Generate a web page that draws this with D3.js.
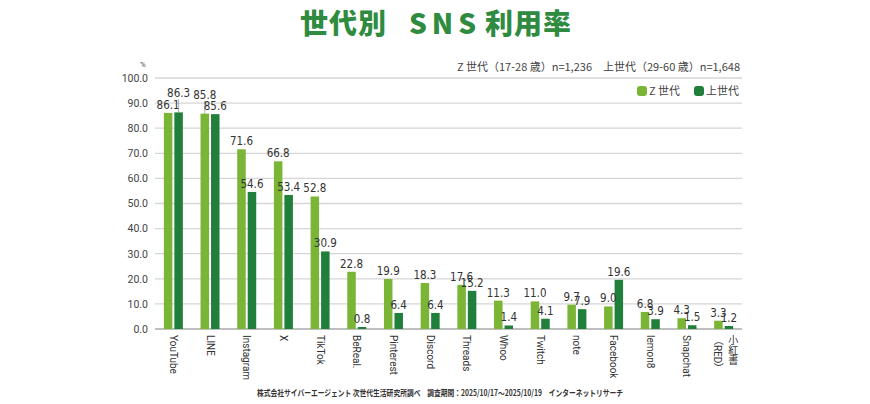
<!DOCTYPE html>
<html>
  <head>
    <meta charset="utf-8">
    <script src="https://d3js.org/d3.v7.min.js"></script>
    <style>
      body { margin: 0; background: #fff; }
      text { font-family: Roboto, "Noto Sans CJK JP", sans-serif; fill: #333; }
      .title { font-family: "Noto Sans CJK JP", sans-serif; font-weight: 900; fill: #2e8b3f; }
      .grid line { stroke: #d6d6d6; stroke-width: 1.3; }
      .xlab { writing-mode: vertical-rl; font-family: Roboto, "Noto Sans CJK JP", sans-serif; }
    </style>
  </head>
  <body>
    <svg id="chart" width="870" height="404"></svg>
    <script>
      // chart data
      var platforms = ["YouTube", "LINE", "Instagram", "X", "TikTok", "BeReal.", "Pinterest", "Discord",
                       "Threads", "Whoo", "Twitch", "note", "Facebook", "lemon8", "Snapchat", "小紅書\n（RED）"];
      var genZ   = [86.1, 85.8, 71.6, 66.8, 52.8, 22.8, 19.9, 18.3, 17.6, 11.3, 11.0, 9.7, 9.0, 6.8, 4.3, 3.3];
      var older  = [86.3, 85.6, 54.6, 53.4, 30.9, 0.8, 6.4, 6.4, 15.2, 1.4, 4.1, 7.9, 19.6, 3.9, 1.5, 1.2];
      var seriesNames = ["Z 世代", "上世代"];
      var yTicks = [0, 10, 20, 30, 40, 50, 60, 70, 80, 90, 100];

      var colors = ["#7ab536", "#1f7f3b"];
      var svg = d3.select("#chart");

      var x = d3.scaleBand().domain(platforms).range([155, 742]);
      var y = d3.scaleLinear().domain([0, 100]).range([329, 78]);

      // title
      var title = svg.append("text").attr("class", "title")
        .attr("x", 436).attr("y", 34).attr("text-anchor", "middle")
        .style("font-size", "28px");
      title.append("tspan").style("letter-spacing", "1px").text("世代別");
      title.append("tspan").attr("dx", 22).style("letter-spacing", "5px").text("SNS");
      title.append("tspan").attr("dx", 4).style("letter-spacing", "1px").text("利用率");

      // gridlines
      svg.append("g").attr("class", "grid")
        .selectAll("line").data(yTicks).enter().append("line")
        .attr("x1", 155).attr("x2", 742)
        .attr("y1", function(d) { return y(d); })
        .attr("y2", function(d) { return y(d); })
        .style("stroke", function(d) { return d === 0 ? "#aaa" : null; });

      // y axis labels (axis line hidden, only text kept)
      var yAxis = svg.append("g").attr("transform", "translate(152,0)")
        .call(d3.axisLeft(y).tickValues(yTicks).tickFormat(d3.format(".1f")).tickSize(0).tickPadding(4));
      yAxis.select(".domain").remove();
      yAxis.selectAll("text").style("font-size", "10.5px").style("fill", "#444")
        .style("font-family", "Roboto, sans-serif");

      svg.append("text").attr("x", 143).attr("y", 67).attr("text-anchor", "middle")
        .style("font-size", "8px").style("fill", "#555").text("%");

      // sample sizes
      svg.append("text").attr("x", 740).attr("y", 71).attr("text-anchor", "end")
        .style("font-size", "11px").style("fill", "#444")
        .style("font-family", "'Noto Sans CJK JP', sans-serif")
        .text("Z 世代（17-28 歳）n=1,236　上世代（29-60 歳）n=1,648");

      // legend
      var legX = [637, 694];
      seriesNames.forEach(function(name, i) {
        svg.append("rect").attr("x", legX[i]).attr("y", 86).attr("width", 10).attr("height", 10)
          .attr("rx", 3).attr("fill", colors[i]);
        svg.append("text").attr("x", legX[i] + 12).attr("y", 95)
          .style("font-size", "11px").style("fill", "#444")
          .style("font-family", "'Noto Sans CJK JP', sans-serif")
          .text(name);
      });

      // bars
      var rows = platforms.map(function(p, i) { return { name: p, v: [genZ[i], older[i]] }; });
      var bw = 8.5;
      function barX(d, k) {
        var c = x(d.name) + x.bandwidth() / 2;
        return k === 0 ? c - 1 - bw : c + 1;
      }

      var groups = svg.append("g").selectAll("g").data(rows).enter().append("g");
      [0, 1].forEach(function(k) {
        groups.append("rect")
          .attr("x", function(d) { return barX(d, k); })
          .attr("y", function(d) { return y(d.v[k]); })
          .attr("width", bw)
          .attr("height", function(d) { return y(0) - y(d.v[k]); })
          .attr("fill", colors[k]);
      });

      // value labels; when the two bars are almost equal, lift the larger label
      [0, 1].forEach(function(k) {
        groups.each(function(d) {
          var g = d3.select(this);
          var cx = barX(d, k) + bw / 2;
          var lift = Math.abs(d.v[0] - d.v[1]) < 1 && d.v[k] > d.v[1 - k] ? 11 : 0;
          var ty = y(d.v[k]) - 4 - lift;
          if (lift) {
            g.append("line").attr("x1", cx).attr("x2", cx)
              .attr("y1", ty + 2).attr("y2", y(d.v[k]))
              .attr("stroke", "#999").attr("stroke-width", 0.8);
          }
          g.append("text").attr("x", cx).attr("y", ty).attr("text-anchor", "middle")
            .style("font-size", "11.5px").style("fill", "#333")
            .style("font-family", "'DejaVu Sans Condensed', Roboto, sans-serif")
            .text(d.v[k].toFixed(1));
        });
      });

      // category labels, vertical writing
      groups.each(function(d) {
        var lines = d.name.split("\n");
        var c = x(d.name) + x.bandwidth() / 2;
        lines.forEach(function(line, j) {
          var off = lines.length > 1 ? (j === 0 ? 8.5 : -6) : 0;
          d3.select(this).append("text").attr("class", "xlab")
            .attr("x", c + off).attr("y", 335)
            .style("font-size", "10px").style("fill", "#333")
            .text(line);
        }, this);
      });

      // source note
      svg.append("text").attr("x", 257).attr("y", 396)
        .attr("textLength", 366).attr("lengthAdjust", "spacingAndGlyphs")
        .style("font-size", "8.5px").style("fill", "#333").style("font-weight", "bold")
        .style("font-family", "'Noto Sans CJK JP', sans-serif")
        .text("株式会社サイバーエージェント 次世代生活研究所調べ　調査期間：2025/10/17～2025/10/19　インターネットリサーチ");
    </script>
  </body>
</html>
